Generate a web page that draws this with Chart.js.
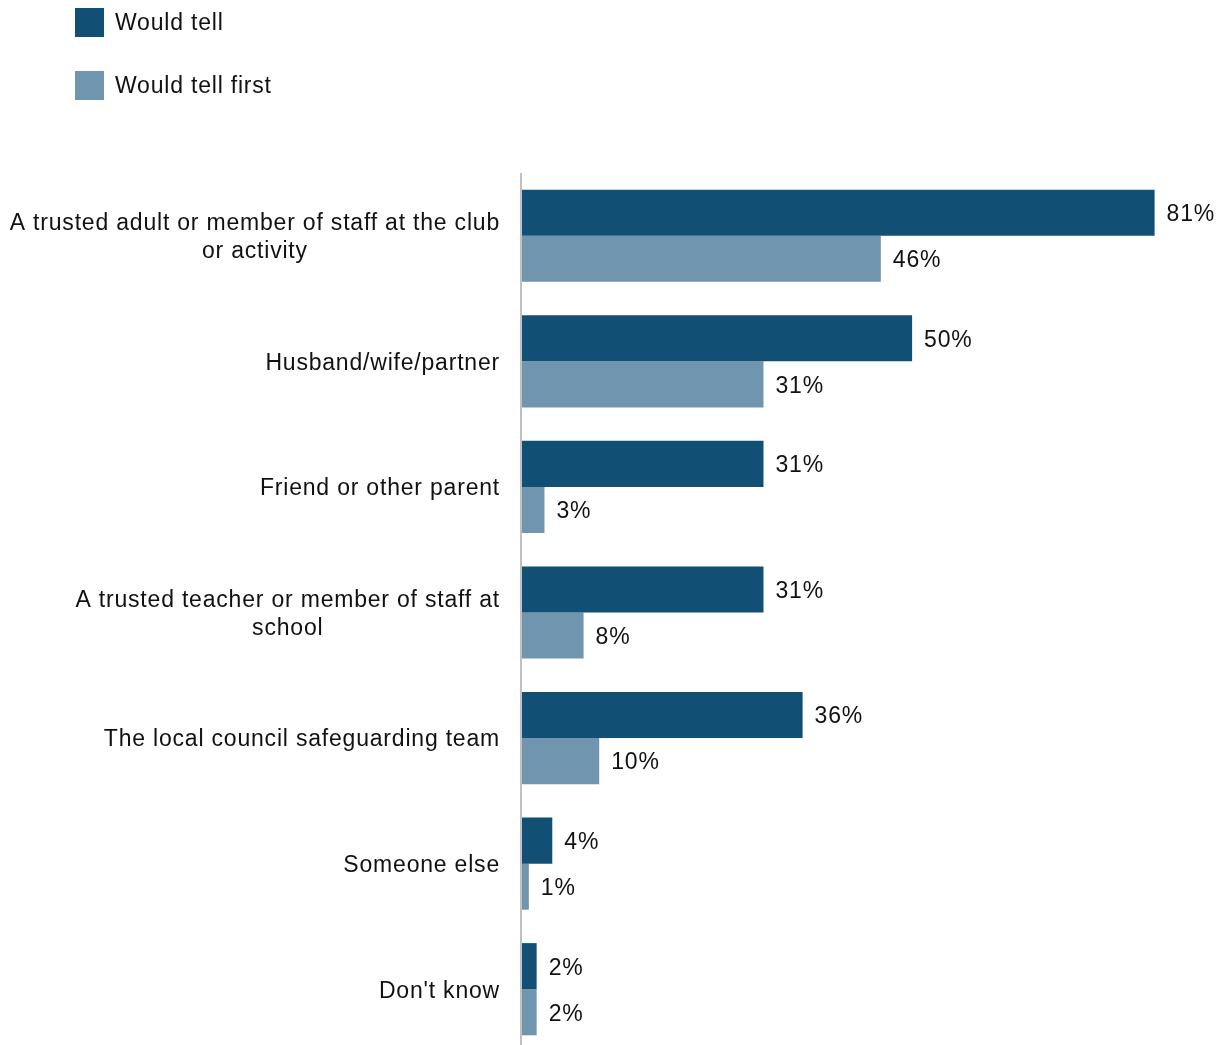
<!DOCTYPE html>
<html>
<head>
<meta charset="utf-8">
<script src="https://cdn.jsdelivr.net/npm/chart.js@4"></script>
<style>
  html, body { margin: 0; padding: 0; background: #fff; overflow: hidden; }
  .chartWrap { position: relative; width: 1225px; height: 1052px; }
</style>
</head>
<body>
<div class="chartWrap"><canvas id="myChart"></canvas></div>
<script>
const categories = [
    ["A trusted adult or member of staff at the club", "or activity"],
    ["Husband/wife/partner"],
    ["Friend or other parent"],
    ["A trusted teacher or member of staff at", "school"],
    ["The local council safeguarding team"],
    ["Someone else"],
    ["Don't know"],
];
const wouldTell = [81, 50, 31, 31, 36, 4, 2];
const wouldTellFirst = [46, 31, 3, 8, 10, 1, 2];
const seriesNames = ["Would tell", "Would tell first"];
const seriesColors = ["#124f74", "#7095ae"];

const font = "23px 'Liberation Sans', Arial, sans-serif";
const textColor = "#111";

// legend stacked top-left, category labels and value labels drawn by hand
const customDraw = {
    id: "customDraw",
    afterDraw(chart) {
        const ctx = chart.ctx;
        const area = chart.chartArea;
        ctx.save();
        ctx.font = font;
        ctx.letterSpacing = "0.8px";
        ctx.fillStyle = textColor;

        // legend
        const legendY = [8, 71];
        seriesNames.forEach((name, i) => {
            ctx.fillStyle = seriesColors[i];
            ctx.fillRect(75, legendY[i], 29, 29);
            ctx.fillStyle = textColor;
            ctx.textAlign = "left";
            ctx.textBaseline = "middle";
            ctx.fillText(name, 115, legendY[i] + 16);
        });

        // category labels: block right aligned, lines centred inside block
        const yScale = chart.scales.y;
        const lineH = 28;
        categories.forEach((lines, i) => {
            const cy = yScale.getPixelForTick(i) + 2;
            const widths = lines.map((l) => ctx.measureText(l).width);
            const blockW = Math.max(...widths);
            const cx = area.left - 21 - blockW / 2;
            ctx.textAlign = "center";
            ctx.textBaseline = "middle";
            lines.forEach((l, j) => {
                const y = cy + (j - (lines.length - 1) / 2) * lineH;
                ctx.fillText(l, cx, y);
            });
        });

        // value labels at bar ends
        ctx.textAlign = "left";
        ctx.textBaseline = "middle";
        chart.data.datasets.forEach((ds, di) => {
            chart.getDatasetMeta(di).data.forEach((bar, i) => {
                ctx.fillText(ds.data[i] + "%", bar.x + 12, bar.y + 2);
            });
        });

        // vertical axis line
        ctx.strokeStyle = "#c0c0c0";
        ctx.lineWidth = 2;
        ctx.beginPath();
        ctx.moveTo(area.left, area.top);
        ctx.lineTo(area.left, area.bottom);
        ctx.stroke();
        ctx.restore();
    },
};

const ctx = document.getElementById("myChart").getContext("2d");
const myChart = new Chart(ctx, {
    type: "bar",
    data: {
        labels: categories.map((c) => c.join(" ")),
        datasets: [
            {
                label: seriesNames[0],
                data: wouldTell,
                backgroundColor: seriesColors[0],
                categoryPercentage: 0.734,
                barPercentage: 1,
            },
            {
                label: seriesNames[1],
                data: wouldTellFirst,
                backgroundColor: seriesColors[1],
                categoryPercentage: 0.734,
                barPercentage: 1,
            },
        ],
    },
    options: {
        indexAxis: "y",
        responsive: true,
        maintainAspectRatio: false,
        animation: false,
        layout: {
            padding: { top: 173, right: 0, bottom: 0, left: 0 },
        },
        plugins: {
            legend: { display: false },
            tooltip: { enabled: false },
        },
        scales: {
            x: {
                display: false,
                min: 0,
                max: 90,
            },
            y: {
                ticks: { display: false },
                grid: { display: false, drawTicks: false },
                border: { display: false },
                afterFit(scale) {
                    scale.width = 521;
                },
            },
        },
    },
    plugins: [customDraw],
});
</script>
</body>
</html>
